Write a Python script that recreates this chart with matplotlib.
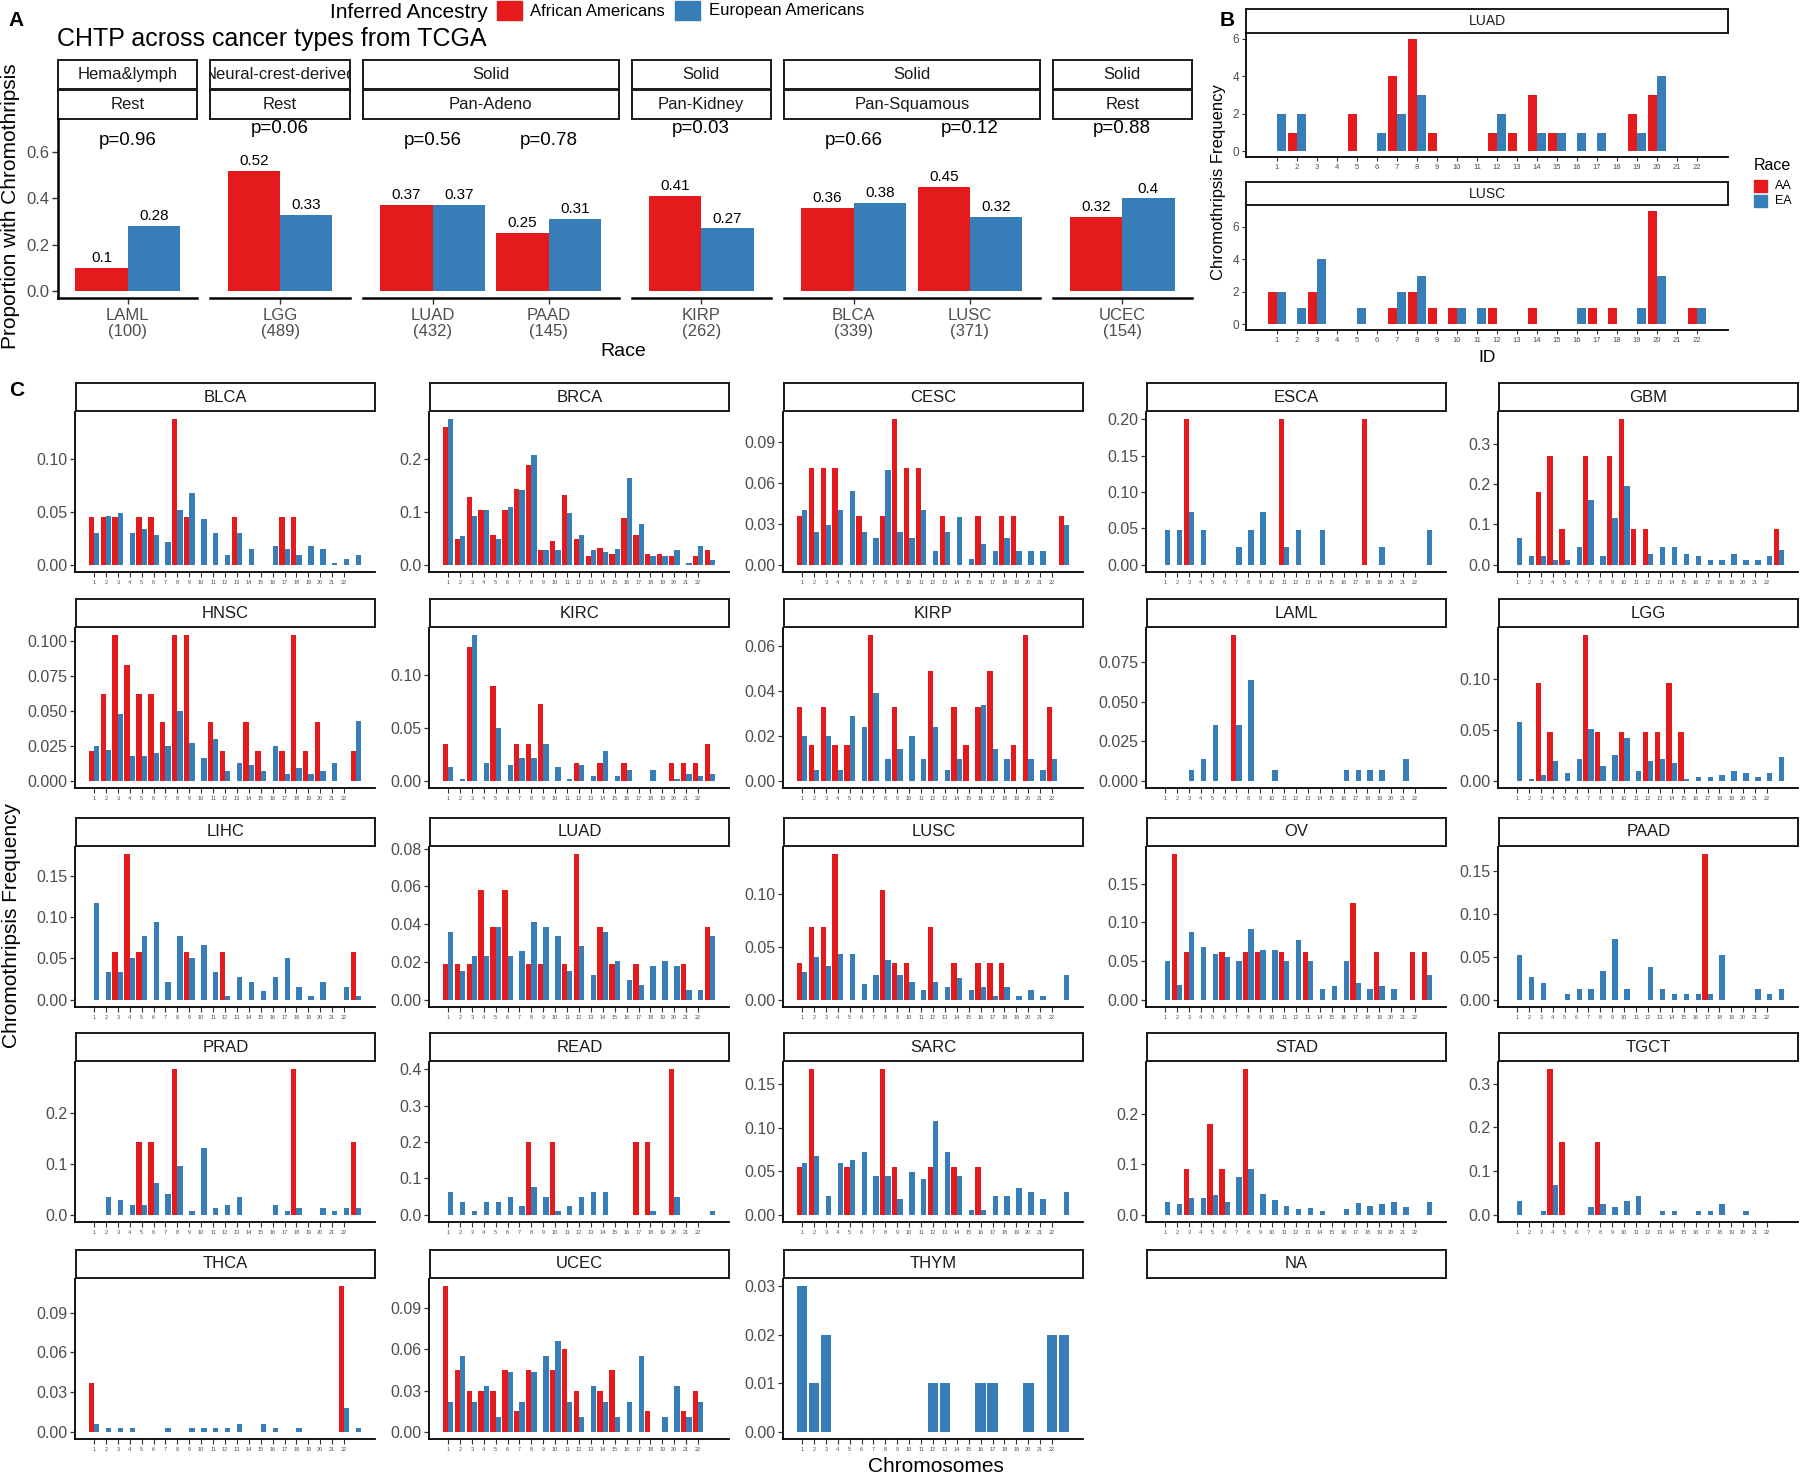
import numpy as np
import matplotlib
matplotlib.use("Agg")
import matplotlib.pyplot as plt
from matplotlib.patches import Rectangle

plt.rcParams["font.family"] = ["Liberation Sans", "DejaVu Sans"]

RED = "#E41A1C"
BLUE = "#377EB8"
GREY = "#4D4D4D"

# ---------------- Panel A data ----------------
a_cancers = ["LAML", "LGG", "LUAD", "PAAD", "KIRP", "BLCA", "LUSC", "UCEC"]
a_n = [100, 489, 432, 145, 262, 339, 371, 154]
a_aa = [0.10, 0.52, 0.37, 0.25, 0.41, 0.36, 0.45, 0.32]
a_ea = [0.28, 0.33, 0.37, 0.31, 0.27, 0.38, 0.32, 0.40]
a_pval = ["0.96", "0.06", "0.56", "0.78", "0.03", "0.66", "0.12", "0.88"]
a_origin = ["Hema&lymph", "Neural-crest-derived", "Solid", "Solid", "Solid", "Solid"]
a_group = ["Rest", "Rest", "Pan-Adeno", "Pan-Kidney", "Pan-Squamous", "Rest"]
a_group_members = [["LAML"], ["LGG"], ["LUAD", "PAAD"], ["KIRP"], ["BLCA", "LUSC"], ["UCEC"]]

# ---------------- Panel B data (counts per chromosome 1..22) ----------------
b_chrom = list(range(1, 23))
b_luad_aa = [0, 1, 0, 0, 2, 0, 4, 6, 1, 0, 0, 1, 1, 3, 1, 0, 0, 0, 2, 3, 0, 0]
b_luad_ea = [2, 2, 0, 0, 0, 1, 2, 3, 0, 0, 0, 2, 0, 1, 1, 1, 1, 0, 1, 4, 0, 0]
b_lusc_aa = [2, 0, 2, 0, 0, 0, 1, 2, 1, 1, 0, 1, 0, 1, 0, 0, 1, 1, 0, 7, 0, 1]
b_lusc_ea = [2, 1, 4, 0, 1, 0, 2, 3, 0, 1, 1, 0, 0, 0, 0, 1, 0, 0, 1, 3, 0, 1]

# ---------------- Panel C data (frequency per chromosome position 1..23) ----------------
c_chrom = list(range(1, 24))
c_tick_labels = [str(i) for i in range(1, 23)]

blca_aa = [.045, .045, .045, 0, .045, .045, 0, .137, .045, 0, 0, 0, .045, 0, 0, 0, .045, .045, 0, 0, 0, 0, 0]
blca_ea = [.030, .046, .049, .030, .034, .028, .021, .052, .068, .043, .030, .009, .030, .015, 0, .018, .015, .009, .018, .015, .002, .005, .009]
brca_aa = [.259, .049, .127, .104, .056, .104, .143, .187, .027, .044, .132, .049, .017, .032, .021, .088, .056, .021, .021, .016, 0, .016, .027]
brca_ea = [.274, .054, .091, .104, .049, .109, .140, .206, .028, .027, .098, .056, .028, .024, .030, .164, .077, .017, .016, .027, .004, .036, .008]
cesc_aa = [.036, .071, .071, .071, 0, .036, 0, .036, .107, .071, .071, 0, .036, 0, 0, .036, 0, .036, .036, 0, 0, 0, .036]
cesc_ea = [.040, .024, .029, .040, .054, .024, .020, .070, .024, .020, .040, .010, .024, .035, .004, .015, .010, .020, .010, .010, .010, 0, .029]
esca_aa = [0, 0, .2, 0, 0, 0, 0, 0, 0, 0, .2, 0, 0, 0, 0, 0, 0, .2, 0, 0, 0, 0, 0]
esca_ea = [.048, .048, .072, .048, 0, 0, .024, .048, .072, 0, .024, .048, 0, .048, 0, 0, 0, 0, .024, 0, 0, 0, .048]
gbm_aa = [0, 0, .18, .27, .089, 0, .27, 0, .27, .36, .089, .089, 0, 0, 0, 0, 0, 0, 0, 0, 0, 0, .089]
gbm_ea = [.065, .022, .022, .012, .012, .044, .159, .022, .116, .196, 0, .027, .044, .044, .027, .021, .012, .012, .027, .012, .012, .022, .036]
hnsc_aa = [.021, .062, .104, .083, .062, .062, .042, .104, .104, 0, .042, .021, 0, .042, .021, 0, .021, .104, .021, .042, 0, 0, .021]
hnsc_ea = [.025, .022, .048, .018, .018, .020, .025, .050, .027, .016, .030, .007, .013, .011, .007, .025, .005, .009, .005, .007, .013, 0, .043]
kirc_aa = [.035, 0, .126, 0, .089, 0, .035, .035, .072, 0, 0, .017, 0, .017, 0, .017, 0, 0, 0, .017, .017, .017, .035]
kirc_ea = [.013, .002, .137, .017, .050, .015, .021, .021, .035, .013, .002, .015, .004, .028, .004, .010, 0, .010, 0, .002, .006, .004, .006]
kirp_aa = [.033, .016, .033, .016, .016, 0, .065, 0, .033, 0, 0, .049, 0, .033, .016, .033, .049, 0, .016, .065, 0, .033, 0]
kirp_ea = [.020, .005, .020, .005, .029, .024, .039, .0095, .014, .020, .0095, .024, .005, .0095, 0, .034, .014, .0095, 0, .0095, .005, .0095, 0]
laml_aa = [0, 0, 0, 0, 0, 0, .092, 0, 0, 0, 0, 0, 0, 0, 0, 0, 0, 0, 0, 0, 0, 0, 0]
laml_ea = [0, 0, .007, .014, .035, 0, .035, .064, 0, .007, 0, 0, 0, 0, 0, .007, .007, .007, .007, 0, .014, 0, 0]
lgg_aa = [0, 0, .096, .048, 0, 0, .143, .048, 0, .048, 0, .048, .048, .096, .048, 0, 0, 0, 0, 0, 0, 0, 0]
lgg_ea = [.058, .002, .006, .019, .008, .021, .051, .014, .025, .042, .010, .019, .021, .017, .002, .004, .004, .006, .010, .008, .004, .008, .023]
lihc_aa = [0, 0, .058, .176, .058, 0, 0, 0, .058, 0, 0, .058, 0, 0, 0, 0, 0, 0, 0, 0, 0, 0, .058]
lihc_ea = [.117, .033, .033, .050, .077, .094, .022, .077, .050, .066, .033, .005, .028, .022, .011, .028, .050, .016, .005, .022, 0, .016, .005]
luad_aa = [.019, .019, .019, .058, .0385, .058, 0, .019, .019, 0, .019, .077, 0, .0385, .019, 0, .019, 0, 0, 0, .019, 0, .0385]
luad_ea = [.036, .015, .023, .023, .0385, .023, .026, .041, .0385, .034, .015, .0285, .013, .036, .0205, .0105, .008, .018, .0205, .018, .005, .005, .034]
lusc_aa = [.035, .069, .069, .138, 0, 0, 0, .104, .035, .035, 0, .069, 0, .035, 0, .035, .035, .035, 0, 0, 0, 0, 0]
lusc_ea = [.026, .041, .032, .043, .043, .015, .023, .0375, .023, .017, .009, .017, .012, .021, .009, .012, .004, .012, .004, .009, .004, 0, .023]
ov_aa = [0, .188, .062, 0, 0, .062, 0, .062, .062, 0, .062, 0, .062, 0, 0, 0, .125, 0, .062, 0, 0, .062, .062]
ov_ea = [.050, .019, .087, .068, .059, .055, .050, .091, .064, .064, .050, .077, .050, .014, .018, .050, .022, .014, .018, .014, 0, 0, .032]
paad_aa = [0, 0, 0, 0, 0, 0, 0, 0, 0, 0, 0, 0, 0, 0, 0, 0, .169, 0, 0, 0, 0, 0, 0]
paad_ea = [.052, .0265, .019, 0, .007, .0125, .0125, .033, .071, .0125, 0, .038, .0125, .007, .007, .007, .007, .052, 0, 0, .0125, .007, .0125]
prad_aa = [0, 0, 0, 0, .143, .143, 0, .286, 0, 0, 0, 0, 0, 0, 0, 0, 0, .286, 0, 0, 0, 0, .143]
prad_ea = [0, .034, .028, .020, .020, .063, .041, .096, .007, .131, .013, .020, .034, 0, 0, .020, .007, .013, 0, .013, .007, .013, .013]
read_aa = [0, 0, 0, 0, 0, 0, 0, .2, 0, .2, 0, 0, 0, 0, 0, 0, .2, .2, 0, .4, 0, 0, 0]
read_ea = [.062, .036, .011, .036, .036, .050, .025, .076, .050, .011, .025, .050, .062, .062, 0, 0, 0, .011, 0, .050, 0, 0, .011]
sarc_aa = [.055, .167, 0, 0, .055, 0, 0, .167, .055, 0, 0, .055, 0, .055, 0, .055, 0, 0, 0, 0, 0, 0, 0]
sarc_ea = [.059, .067, .022, .059, .063, .072, .044, .044, .018, .049, .041, .108, .072, .044, .005, .005, .022, .022, .031, .026, .018, 0, .026]
stad_aa = [0, 0, .090, 0, .181, .090, 0, .289, 0, 0, 0, 0, 0, 0, 0, 0, 0, 0, 0, 0, 0, 0, 0]
stad_ea = [.025, .022, .033, .033, .039, .025, .075, .091, .041, .030, .018, .011, .014, .008, 0, .011, .023, .018, .022, .026, .015, 0, .025]
tgct_aa = [0, 0, 0, .333, .167, 0, 0, .167, 0, 0, 0, 0, 0, 0, 0, 0, 0, 0, 0, 0, 0, 0, 0]
tgct_ea = [.032, 0, .008, .067, 0, 0, .017, .025, .017, .032, .042, 0, .008, .008, 0, .008, .008, .025, 0, .008, 0, 0, 0]
thca_aa = [.0365, 0, 0, 0, 0, 0, 0, 0, 0, 0, 0, 0, 0, 0, 0, 0, 0, 0, 0, 0, 0, .110, 0]
thca_ea = [.006, .0025, .0025, .0025, 0, 0, .0025, 0, .0025, .0025, .0025, .0025, .006, 0, .006, .0025, 0, .0025, 0, 0, 0, .018, .0025]
ucec_aa = [.106, .045, .030, .030, .030, .045, .015, .045, 0, .045, .0605, .030, 0, .030, .045, 0, 0, .015, 0, 0, .015, .030, 0]
ucec_ea = [.022, .0555, .022, .033, .011, .0435, .022, .0435, .0555, .066, .022, .011, .033, .022, .011, .022, .0555, 0, .011, .033, .011, .022, 0]
thym_aa = [0] * 23
thym_ea = [.03, .01, .02, 0, 0, 0, 0, 0, 0, 0, 0, .01, .01, 0, 0, .01, .01, 0, 0, .01, 0, .02, .02]

c_names = ["BLCA", "BRCA", "CESC", "ESCA", "GBM", "HNSC", "KIRC", "KIRP", "LAML", "LGG",
           "LIHC", "LUAD", "LUSC", "OV", "PAAD", "PRAD", "READ", "SARC", "STAD", "TGCT",
           "THCA", "UCEC", "THYM", "NA"]
c_aa = [blca_aa, brca_aa, cesc_aa, esca_aa, gbm_aa, hnsc_aa, kirc_aa, kirp_aa, laml_aa, lgg_aa,
        lihc_aa, luad_aa, lusc_aa, ov_aa, paad_aa, prad_aa, read_aa, sarc_aa, stad_aa, tgct_aa,
        thca_aa, ucec_aa, thym_aa]
c_ea = [blca_ea, brca_ea, cesc_ea, esca_ea, gbm_ea, hnsc_ea, kirc_ea, kirp_ea, laml_ea, lgg_ea,
        lihc_ea, luad_ea, lusc_ea, ov_ea, paad_ea, prad_ea, read_ea, sarc_ea, stad_ea, tgct_ea,
        thca_ea, ucec_ea, thym_ea]
# y-axis breaks read from each facet: step and the last labelled break
c_ystep = ["0.05", "0.1", "0.03", "0.05", "0.1", "0.025", "0.05", "0.02", "0.025", "0.05",
           "0.05", "0.02", "0.05", "0.05", "0.05", "0.1", "0.1", "0.05", "0.1", "0.1",
           "0.03", "0.03", "0.01"]
c_ylast = [0.10, 0.2, 0.09, 0.20, 0.3, 0.100, 0.10, 0.06, 0.075, 0.10,
           0.15, 0.08, 0.10, 0.15, 0.15, 0.2, 0.4, 0.15, 0.2, 0.3,
           0.09, 0.09, 0.03]

# ---------------- figure helpers ----------------
W, H = 1800, 1477
fig = plt.figure(figsize=(W / 100, H / 100), dpi=100)


def add_ax(x0, y0, x1, y1):
    return fig.add_axes([x0 / W, 1 - y1 / H, (x1 - x0) / W, (y1 - y0) / H])


def ftext(x, y, s, **kw):
    fig.text(x / W, 1 - y / H, s, **kw)


def add_strip(x0, y0, x1, y1, label, size):
    ax = add_ax(x0, y0, x1, y1)
    ax.set_xticks([])
    ax.set_yticks([])
    for sp in ax.spines.values():
        sp.set_linewidth(1.4)
        sp.set_edgecolor("#1A1A1A")
    ax.text(0.5, 0.5, label, transform=ax.transAxes, ha="center", va="center",
            fontsize=size, color="#1A1A1A", clip_on=True)
    return ax


def classic(ax, left=True, lw=1.3):
    ax.spines[["top", "right"]].set_visible(False)
    ax.spines["bottom"].set_linewidth(lw)
    ax.spines["left"].set_linewidth(lw)
    ax.spines["left"].set_visible(left)
    ax.set_facecolor("none")
    ax.tick_params(colors="#333333", labelcolor=GREY)


def dodge_bars(ax, x, aa, ea, w=0.45):
    x = np.asarray(x, dtype=float)
    aa = np.asarray(aa, dtype=float)
    ea = np.asarray(ea, dtype=float)
    if (aa > 0).any():
        m = aa > 0
        ax.bar(x[m] - w, aa[m], w, align="edge", color=RED, linewidth=0)
        m = ea > 0
        ax.bar(x[m], ea[m], w, align="edge", color=BLUE, linewidth=0)
    else:
        m = ea > 0
        ax.bar(x[m], ea[m], 2 * w, color=BLUE, linewidth=0)


# ---------------- Panel A ----------------
ftext(8, 20, "A", fontsize=15, fontweight="bold", va="center")
ftext(57, 39, "CHTP across cancer types from TCGA", fontsize=18, va="center")
ftext(330, 12, "Inferred Ancestry", fontsize=15, va="center")
fig.patches.append(Rectangle((497 / W, 1 - 20 / H), 25 / W, 19 / H, transform=fig.transFigure,
                             color=RED))
ftext(530, 11, "African Americans", fontsize=12, va="center")
fig.patches.append(Rectangle((675 / W, 1 - 20 / H), 25 / W, 19 / H, transform=fig.transFigure,
                             color=BLUE))
ftext(709, 11, "European Americans", fontsize=12, va="center")

a_left, a_right, a_gap = 58, 1192, 13
units = sum(len(m) + 0.2 for m in a_group_members)
unit_px = (a_right - a_left - a_gap * (len(a_group_members) - 1)) / units
x = a_left
for gi, members in enumerate(a_group_members):
    w = (len(members) + 0.2) * unit_px
    add_strip(x, 60, x + w, 89, a_origin[gi], 12)
    add_strip(x, 90, x + w, 119, a_group[gi], 12)
    ax = add_ax(x, 119, x + w, 298)
    classic(ax, left=(gi == 0), lw=1.8)
    idx = [a_cancers.index(m) for m in members]
    pos = np.arange(1, len(members) + 1)
    aa = [a_aa[i] for i in idx]
    ea = [a_ea[i] for i in idx]
    dodge_bars(ax, pos, aa, ea)
    for p, i in zip(pos, idx):
        ax.annotate(f"{a_aa[i]:g}", (p - 0.225, a_aa[i]), xytext=(0, 2), textcoords="offset points",
                    ha="center", va="bottom", fontsize=11)
        ax.annotate(f"{a_ea[i]:g}", (p + 0.225, a_ea[i]), xytext=(0, 2), textcoords="offset points",
                    ha="center", va="bottom", fontsize=11)
        py = 0.70 if max(a_aa[i], a_ea[i]) >= 0.40 else 0.648
        ax.text(p, py, "p=" + a_pval[i], ha="center", va="center", fontsize=13.5)
    ax.set_xlim(0.4, len(members) + 0.6)
    ax.set_ylim(-0.031, 0.743)
    ax.set_xticks(pos)
    ax.set_xticklabels([f"{a_cancers[i]}\n({a_n[i]})" for i in idx], fontsize=12, linespacing=1.1)
    ax.tick_params(axis="x", length=4, width=1, pad=3)
    if gi == 0:
        ax.set_yticks([0, 0.2, 0.4, 0.6])
        ax.set_yticklabels(["0.0", "0.2", "0.4", "0.6"], fontsize=12)
        ax.tick_params(axis="y", length=4, width=1, pad=2)
    else:
        ax.set_yticks([])
    x += w + a_gap

ftext(623, 351, "Race", fontsize=14, ha="center", va="center")
ftext(11, 206, "Proportion with Chromothripsis", fontsize=15, rotation=90, ha="center", va="center")

# ---------------- Panel B ----------------
ftext(1220, 20, "B", fontsize=15, fontweight="bold", va="center")
b_panels = [("LUAD", b_luad_aa, b_luad_ea, 9, 33, 157), ("LUSC", b_lusc_aa, b_lusc_ea, 182, 205, 330)]
for name, aa, ea, s0, p0, p1 in b_panels:
    add_strip(1246, s0, 1728, p0, name, 10)
    ax = add_ax(1246, p0, 1728, p1)
    classic(ax, lw=1.3)
    dodge_bars(ax, b_chrom, aa, ea)
    top = max(max(aa), max(ea))
    ax.set_ylim(-0.05 * top, 1.05 * top)
    ax.set_xlim(-0.545, 23.545)
    ax.set_xticks(b_chrom)
    ax.set_xticklabels([str(c) for c in b_chrom], fontsize=5.5)
    ax.set_yticks([0, 2, 4, 6])
    ax.set_yticklabels(["0", "2", "4", "6"], fontsize=8.5)
    ax.tick_params(axis="both", length=3, width=0.8, pad=2)

ftext(1218, 182, "Chromothripsis Frequency", fontsize=12, rotation=90, ha="center", va="center")
ftext(1487, 357, "ID", fontsize=12.5, ha="center", va="center")
ftext(1754, 165, "Race", fontsize=11.5, va="center")
fig.patches.append(Rectangle((1754 / W, 1 - 192 / H), 13 / W, 12 / H, transform=fig.transFigure,
                             color=RED))
fig.patches.append(Rectangle((1754 / W, 1 - 207 / H), 13 / W, 12 / H, transform=fig.transFigure,
                             color=BLUE))
ftext(1775, 186, "AA", fontsize=9, va="center")
ftext(1775, 201, "EA", fontsize=9, va="center")

# ---------------- Panel C ----------------
ftext(9, 390, "C", fontsize=15, fontweight="bold", va="center")
col_x0 = [75, 429, 783, 1146, 1498]
row_bottom = [572, 788, 1007, 1222, 1439]
pw, ph = 300, 160
for k, name in enumerate(c_names):
    r, c = divmod(k, 5)
    x0 = col_x0[c]
    yb = row_bottom[r]
    add_strip(x0 + 1, yb - ph - 29, x0 + pw, yb - ph - 1, name, 12)
    if name == "NA":
        continue
    ax = add_ax(x0, yb - ph, x0 + pw, yb)
    classic(ax, lw=1.3)
    aa, ea = c_aa[k], c_ea[k]
    dodge_bars(ax, c_chrom, aa, ea)
    top = max(max(aa), max(ea))
    ax.set_ylim(-0.05 * top, 1.05 * top)
    ax.set_xlim(-0.6, 24.6)
    step = float(c_ystep[k])
    dec = len(c_ystep[k].split(".")[1])
    ticks = np.arange(0, c_ylast[k] + step / 2, step)
    ax.set_yticks(ticks)
    ax.set_yticklabels([f"{t:.{dec}f}" for t in ticks], fontsize=11.5)
    ax.set_xticks(c_chrom[:22])
    ax.set_xticklabels(c_tick_labels, fontsize=4)
    ax.tick_params(axis="y", length=3.5, width=0.9, pad=2)
    ax.tick_params(axis="x", length=3.5, width=0.8, pad=2)

ftext(12, 925, "Chromothripsis Frequency", fontsize=15, rotation=90, ha="center", va="center")
ftext(936, 1466, "Chromosomes", fontsize=15, ha="center", va="center")

fig.savefig("out.png", dpi=100)
